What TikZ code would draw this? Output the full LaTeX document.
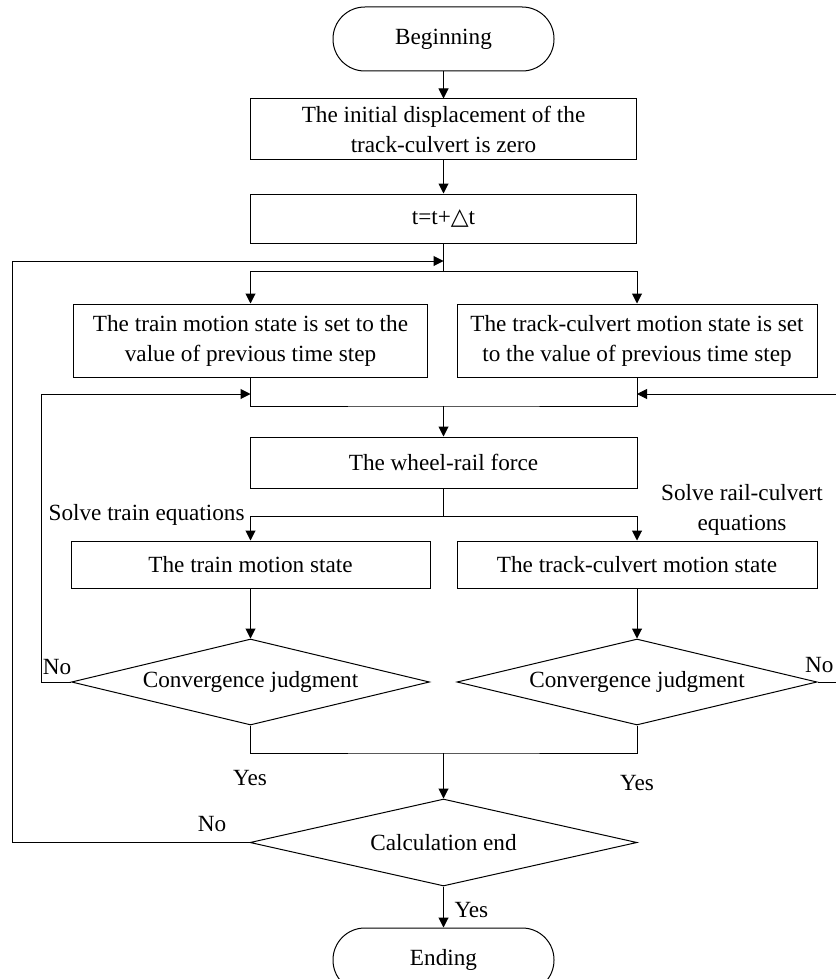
\documentclass[tikz,border=0pt]{standalone}
\usepackage{fontspec}
\setmainfont{Liberation Serif}
\newfontfamily\symfont{DejaVu Serif}
\usetikzlibrary{arrows.meta,shapes.geometric}
\begin{document}
\begin{tikzpicture}[x=0.5pt,y=-0.5pt,
  font=\fontsize{11.6pt}{15pt}\selectfont, line width=0.5pt,
  box/.style={draw, rectangle, inner sep=0pt, align=center},
  term/.style={draw, rectangle, rounded corners=15.9pt, minimum width=110.5pt, minimum height=32pt, inner sep=0pt},
  dec/.style={draw, diamond, aspect=4.2, inner sep=0pt},
  arr/.style={-{Triangle[length=5pt,width=5pt]}},
  lab/.style={inner sep=0pt}]
\useasboundingbox (0,0) rectangle (835,979);

\node[term] (begin) at (443.5,39) {Beginning};
\node[box, minimum width=193pt, minimum height=30pt] (init) at (443.5,129) {The initial displacement of the\\track-culvert is zero};
\node[box, minimum width=193pt, minimum height=24.5pt] (tstep) at (443.5,218.5) {t=t+{\symfont △}t};
\node[box, minimum width=177pt, minimum height=36.5pt] (setL) at (250.5,340.5) {The train motion state is set to the\\value of previous time step};
\node[box, minimum width=180pt, minimum height=36.5pt] (setR) at (637,340.5) {The track-culvert motion state is set\\to the value of previous time step};
\node[box, minimum width=193.5pt, minimum height=25.5pt] (wheel) at (443.5,462.5) {The wheel-rail force};
\node[box, minimum width=179.5pt, minimum height=23.5pt] (stL) at (250.5,564.5) {The train motion state};
\node[box, minimum width=180pt, minimum height=23.5pt] (stR) at (637,564.5) {The track-culvert motion state};
\node[dec, minimum width=179pt, minimum height=43pt] (cjL) at (250.5,682) {Convergence judgment};
\node[dec, minimum width=180pt, minimum height=43pt] (cjR) at (637,682) {Convergence judgment};
\node[dec, minimum width=193.5pt, minimum height=43.5pt] (calc) at (443.5,842.5) {Calculation end};
\node[term] (end) at (443.5,960) {Ending};

\draw[arr] (begin) -- (init);
\draw[arr] (init) -- (tstep);
\coordinate (j1) at (443.5,271);
\draw (tstep.south) -- (j1);
\draw[arr] (j1) -| (setL.north);
\draw[arr] (j1) -| (setR.north);
\coordinate (m1) at (443.5,406);
\draw (setL.south) |- (m1) -| (setR.south);
\draw[arr] (m1) -- (wheel.north);
\coordinate (j2) at (443.5,516);
\draw (wheel.south) -- (j2);
\draw[arr] (j2) -| (stL.north);
\draw[arr] (j2) -| (stR.north);
\draw[arr] (stL) -- (cjL);
\draw[arr] (stR) -- (cjR);
\coordinate (m2) at (443.5,753);
\draw (cjL.south) |- (m2) -| (cjR.south);
\draw[arr] (m2) -- (calc.north);
\draw[arr] (calc) -- (end);

\coordinate (fbL) at (250.5,394);
\coordinate (fbR) at (637,394);
\coordinate (fbT) at (443.5,261);
\draw[arr] (cjL.west) -- (41,682) |- (fbL);
\draw[arr] (cjR.east) -- (850,682) |- (fbR);
\draw[arr] (calc.west) -- (12,842.5) |- (fbT);

\node[lab, anchor=east] (sTrain) at (245,515) {Solve train equations};
\node[lab, align=center] (sRail) at (742,510) {Solve rail-culvert\\equations};
\node[lab] (noL) at (57,667) {No};
\node[lab, anchor=east] (noR) at (834,665) {No};
\node[lab] (yesL) at (250,778) {Yes};
\node[lab] (yesR) at (637,783) {Yes};
\node[lab] (noC) at (212,824) {No};
\node[lab, anchor=west] (yesE) at (454,910) {Yes};
\end{tikzpicture}
\end{document}
